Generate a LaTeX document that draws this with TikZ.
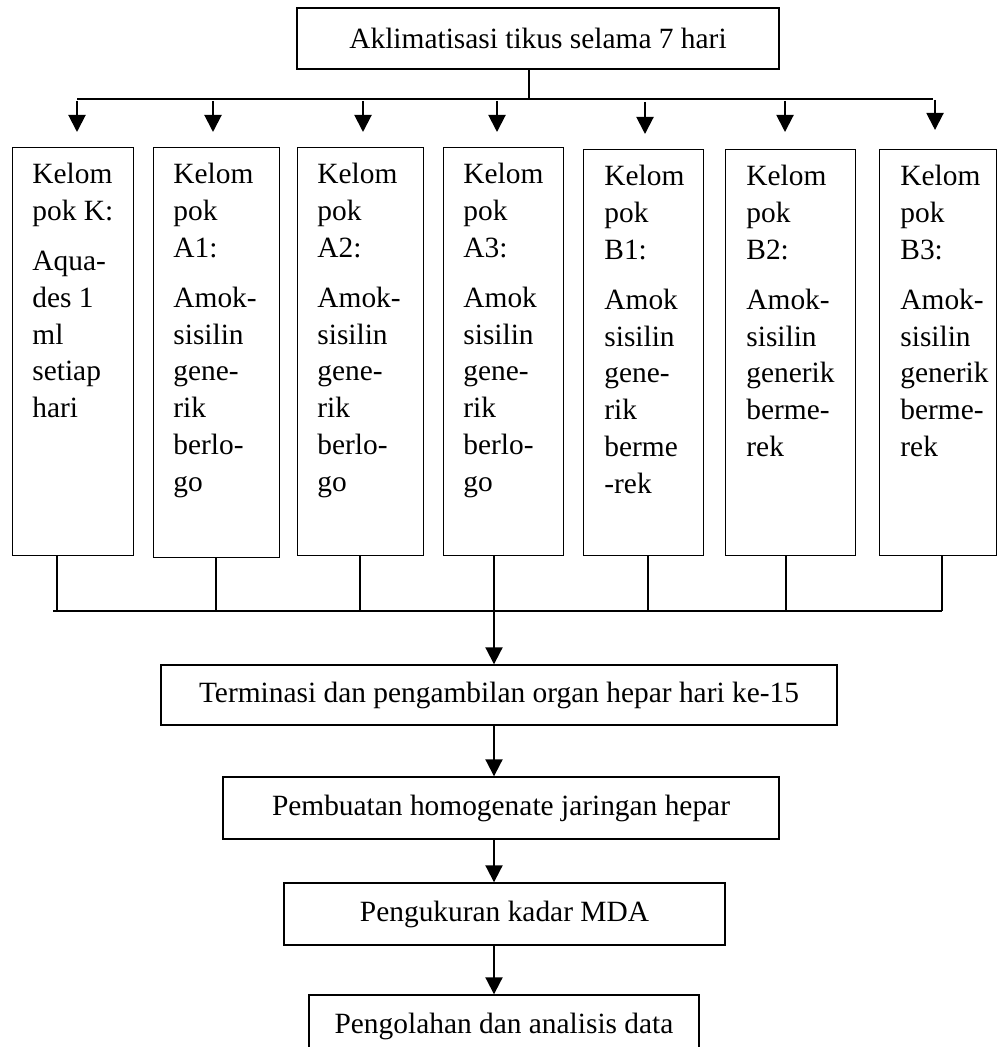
\documentclass[tikz,border=0pt]{standalone}
\usepackage{fontspec}
\setmainfont{Liberation Serif}
\usetikzlibrary{arrows.meta,calc}
\newcommand\fs{\fontsize{14.7pt}{18.4pt}\selectfont}
\begin{document}
\begin{tikzpicture}[x=0.5pt,y=-0.5pt,
  box/.style={draw,line width=0.7pt,inner sep=0pt,font=\fs},
  gbox/.style={draw,line width=0.7pt,inner sep=0pt,anchor=north west},
  ln/.style={line width=0.7pt},
  arr/.style={line width=1pt,-{Triangle[length=8.5pt,width=8.5pt]}},
  grp/.style={inner sep=0pt,anchor=base west,font=\fs}]
\useasboundingbox (0,0) rectangle (998,1047);

% top box
\node[box,minimum width=241pt,minimum height=30.5pt] (top) at (538,38.5) {Aklimatisasi tikus selama 7 hari};

% group boxes
\node[gbox,minimum width=60.5pt,minimum height=204pt] (gK)  at (12,147) {};
\node[gbox,minimum width=63pt,minimum height=205pt]   (gA1) at (153,147) {};
\node[gbox,minimum width=63pt,minimum height=204pt]   (gA2) at (297,147) {};
\node[gbox,minimum width=60pt,minimum height=204pt]   (gA3) at (443,147) {};
\node[gbox,minimum width=60pt,minimum height=203pt]   (gB1) at (583,149) {};
\node[gbox,minimum width=65pt,minimum height=203pt]   (gB2) at (725,149) {};
\node[gbox,minimum width=58.5pt,minimum height=203pt] (gB3) at (879,149) {};

% group texts
\node[grp] (tK)  at (32,184)  {\vtop{\hbox{Kelom}\hbox{pok K:}\vskip6.5pt\hbox{Aqua-}\hbox{des 1}\hbox{ml}\hbox{setiap}\hbox{hari}}};
\node[grp] (tA1) at (173,184) {\vtop{\hbox{Kelom}\hbox{pok}\hbox{A1:}\vskip6.5pt\hbox{Amok-}\hbox{sisilin}\hbox{gene-}\hbox{rik}\hbox{berlo-}\hbox{go}}};
\node[grp] (tA2) at (317,184) {\vtop{\hbox{Kelom}\hbox{pok}\hbox{A2:}\vskip6.5pt\hbox{Amok-}\hbox{sisilin}\hbox{gene-}\hbox{rik}\hbox{berlo-}\hbox{go}}};
\node[grp] (tA3) at (463,184) {\vtop{\hbox{Kelom}\hbox{pok}\hbox{A3:}\vskip6.5pt\hbox{Amok}\hbox{sisilin}\hbox{gene-}\hbox{rik}\hbox{berlo-}\hbox{go}}};
\node[grp] (tB1) at (604,186) {\vtop{\hbox{Kelom}\hbox{pok}\hbox{B1:}\vskip6.5pt\hbox{Amok}\hbox{sisilin}\hbox{gene-}\hbox{rik}\hbox{berme}\hbox{-rek}}};
\node[grp] (tB2) at (746,186) {\vtop{\hbox{Kelom}\hbox{pok}\hbox{B2:}\vskip6.5pt\hbox{Amok-}\hbox{sisilin}\hbox{generik}\hbox{berme-}\hbox{rek}}};
\node[grp] (tB3) at (900,186) {\vtop{\hbox{Kelom}\hbox{pok}\hbox{B3:}\vskip6.5pt\hbox{Amok-}\hbox{sisilin}\hbox{generik}\hbox{berme-}\hbox{rek}}};

% lower boxes
\node[box,minimum width=338pt,minimum height=30pt]   (term) at (499,695)  {Terminasi dan pengambilan organ hepar hari ke-15};
\node[box,minimum width=278pt,minimum height=31pt]   (pemb) at (501,808)  {Pembuatan homogenate jaringan hepar};
\node[box,minimum width=220.5pt,minimum height=31pt] (peng) at (504.5,914) {Pengukuran kadar MDA};
\node[box,minimum width=195pt,minimum height=31pt]   (olah) at (504,1026) {Pengolahan dan analisis data};

% top distribution
\coordinate (tb) at (529,99);
\coordinate (bL) at (77,99);
\coordinate (bR) at (933,99);
\draw[ln] (top.south -| tb) -- (tb);
\draw[ln] (bL) -- (bR);
\coordinate (a1) at (77,101);
\coordinate (a2) at (213,101);
\coordinate (a3) at (363,101);
\coordinate (a4) at (497,101);
\coordinate (a5) at (645,102);
\coordinate (a6) at (785,101);
\coordinate (a7) at (935,100);
\draw[arr,shorten >=7.5pt] (a1) -- (gK.north -| a1);
\draw[arr,shorten >=7.5pt] (a2) -- (gA1.north -| a2);
\draw[arr,shorten >=7.5pt] (a3) -- (gA2.north -| a3);
\draw[arr,shorten >=7.5pt] (a4) -- (gA3.north -| a4);
\draw[arr,shorten >=7.5pt] (a5) -- (gB1.north -| a5);
\draw[arr,shorten >=8.5pt] (a6) -- (gB2.north -| a6);
\draw[arr,shorten >=9.5pt] (a7) -- (gB3.north -| a7);

% bottom collection
\coordinate (s0) at (53,611);
\coordinate (s1) at (57,611);
\coordinate (s2) at (216,611);
\coordinate (s3) at (360,611);
\coordinate (s4) at (494,611);
\coordinate (s5) at (648,611);
\coordinate (s6) at (786,611);
\coordinate (s7) at (942,611);
\draw[ln] (s0) -- (s7);
\draw[ln] (gK.south -| s1) -- (s1);
\draw[ln] (gA1.south -| s2) -- (s2);
\draw[ln] (gA2.south -| s3) -- (s3);
\draw[ln] (gB1.south -| s5) -- (s5);
\draw[ln] (gB2.south -| s6) -- (s6);
\draw[ln] (gB3.south -| s7) -- (s7);
\draw[arr] (gA3.south -| s4) -- (term.north -| s4);

% chain
\draw[arr] (term.south -| s4) -- (pemb.north -| s4);
\draw[arr] (pemb.south -| s4) -- (peng.north -| s4);
\draw[arr] (peng.south -| s4) -- (olah.north -| s4);
\end{tikzpicture}
\end{document}
